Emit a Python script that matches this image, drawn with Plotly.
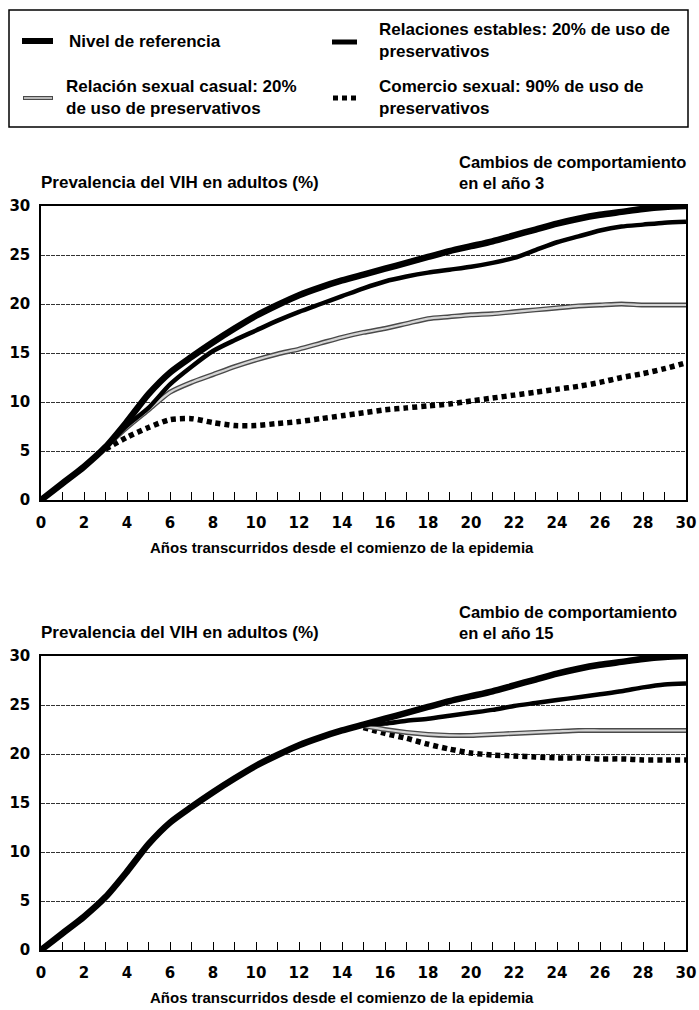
import plotly.graph_objects as go

# ---------------- data ----------------
years = list(range(0, 31))
referencia = [0, 1.7, 3.4, 5.4, 8.0, 10.8, 13.0, 14.6, 16.1, 17.5, 18.8, 19.9, 20.9, 21.7,
              22.4, 23.0, 23.6, 24.2, 24.8, 25.4, 25.9, 26.4, 27.0, 27.6, 28.2, 28.7, 29.1,
              29.4, 29.7, 29.9, 30.0]

# Behaviour change in year 3
years_a = list(range(3, 31))
estables_a = [5.4, 7.6, 9.4, 11.8, 13.6, 15.2, 16.3, 17.3, 18.3, 19.2, 20.0, 20.8, 21.6, 22.3,
              22.8, 23.2, 23.5, 23.8, 24.2, 24.7, 25.5, 26.3, 26.9, 27.5, 27.9, 28.1, 28.3, 28.4]
casual_a = [5.4, 7.4, 9.2, 11.0, 12.0, 12.8, 13.6, 14.3, 14.9, 15.4, 16.0, 16.6, 17.1, 17.5,
            18.0, 18.5, 18.7, 18.9, 19.0, 19.2, 19.4, 19.6, 19.8, 19.9, 20.0, 19.9, 19.9, 19.9]
comercio_a = [5.2, 6.4, 7.4, 8.2, 8.3, 7.9, 7.6, 7.6, 7.8, 8.0, 8.3, 8.6, 8.9, 9.2,
              9.4, 9.6, 9.8, 10.1, 10.4, 10.7, 11.0, 11.3, 11.6, 12.0, 12.5, 12.9, 13.4, 14.0]

# Behaviour change in year 15
years_b = list(range(15, 31))
estables_b = [23.0, 23.1, 23.4, 23.6, 23.9, 24.2, 24.5, 24.9, 25.2, 25.5, 25.8, 26.1, 26.4,
              26.8, 27.1, 27.2]
casual_b = [22.9, 22.5, 22.2, 22.0, 21.9, 21.9, 22.0, 22.1, 22.2, 22.3, 22.4, 22.4, 22.4,
            22.4, 22.4, 22.4]
comercio_b = [22.7, 22.1, 21.6, 21.0, 20.5, 20.1, 19.9, 19.8, 19.7, 19.6, 19.6, 19.5, 19.5,
              19.4, 19.4, 19.4]

legend_labels = ["Nivel de referencia",
                 "Relaciones estables: 20% de uso de<br>preservativos",
                 "Relación sexual casual: 20%<br>de uso de preservativos",
                 "Comercio sexual: 90% de uso de<br>preservativos"]
y_title = "Prevalencia del VIH en adultos (%)"
x_title = "Años transcurridos desde el comienzo de la epidemia"
panel_titles = ["Cambios de comportamiento<br>en el año 3",
                "Cambio de comportamiento<br>en el año 15"]
x_ticks = list(range(0, 31, 2))
y_ticks = list(range(0, 31, 5))

# ---------------- figure ----------------
W, H = 699, 1010
TXT = dict(family="Liberation Sans, Arial, sans-serif", size=17, color="black", weight=700)
NUM = dict(family="DejaVu Sans, sans-serif", size=15, color="black", weight=700)


def px(x):
    return x / W


def py(y):
    return 1 - y / H


fig = go.Figure()


def add_panel(xa, ya, xs, est, cas, com):
    common = dict(xaxis=xa, yaxis=ya, mode="lines", showlegend=False, hoverinfo="skip")
    sp = dict(shape="spline", smoothing=0.7)
    fig.add_trace(go.Scatter(x=xs, y=com, line=dict(color="black", width=5.5, dash="5px,4px", **sp), **common))
    fig.add_trace(go.Scatter(x=xs, y=cas, line=dict(color="#4a4a4a", width=5, **sp), **common))
    fig.add_trace(go.Scatter(x=xs, y=cas, line=dict(color="#d4d4d4", width=2.2, **sp), **common))
    fig.add_trace(go.Scatter(x=xs, y=est, line=dict(color="black", width=4.5, **sp), **common))
    fig.add_trace(go.Scatter(x=years, y=referencia, line=dict(color="black", width=6.5, **sp), **common))


add_panel("x", "y", years_a, estables_a, casual_a, comercio_a)
add_panel("x2", "y2", years_b, estables_b, casual_b, comercio_b)

xdom = [px(41), px(686)]
axis_x = dict(range=[0, 30], tickvals=x_ticks, ticks="inside", ticklen=8, tickwidth=1.3,
              tickcolor="black", showline=True, linecolor="black", linewidth=1.5, mirror=True,
              showgrid=False, zeroline=False, tickfont=NUM, ticklabelstandoff=8,
              minor=dict(dtick=1, tick0=0, ticks="inside", ticklen=8, tickwidth=1.3,
                         tickcolor="black", showgrid=False))
axis_y = dict(range=[0, 30], tickvals=y_ticks, ticks="", showline=True, linecolor="black",
              linewidth=1.5, mirror=True, showgrid=True, gridcolor="#333", gridwidth=1,
              griddash="4px,1px", zeroline=False, tickfont=NUM, ticklabelstandoff=6)

fig.update_layout(
    width=W, height=H, margin=dict(l=0, r=0, t=0, b=0, autoexpand=False),
    paper_bgcolor="white", plot_bgcolor="white", showlegend=False,
    xaxis=dict(domain=xdom, anchor="y", automargin=False, **axis_x),
    yaxis=dict(domain=[py(500), py(206)], anchor="x", automargin=False, **axis_y),
    xaxis2=dict(domain=xdom, anchor="y2", automargin=False, **axis_x),
    yaxis2=dict(domain=[py(950), py(656)], anchor="x2", automargin=False, **axis_y),
)

ann = []
for top, bottom, title in [(206, 500, panel_titles[0]), (656, 950, panel_titles[1])]:
    ann.append(dict(x=px(39), y=py(top - 12), xref="paper", yref="paper", text=y_title,
                    showarrow=False, xanchor="left", yanchor="bottom", font=TXT))
    ann.append(dict(x=px(457), y=py(top - 12), xref="paper", yref="paper", text=title,
                    showarrow=False, xanchor="left", yanchor="bottom", align="left",
                    font=dict(TXT, size=16.5)))
    ann.append(dict(x=px(342), y=py(bottom + 47), xref="paper", yref="paper", text=x_title,
                    showarrow=False, xanchor="center", yanchor="middle",
                    font=dict(TXT, size=15)))

# legend box
shapes = [dict(type="rect", xref="paper", yref="paper", x0=px(9), x1=px(688), y0=py(10),
               y1=py(127), line=dict(color="black", width=1.5))]
shapes.append(dict(type="line", xref="paper", yref="paper", x0=px(22), x1=px(53), y0=py(41),
                   y1=py(41), line=dict(color="black", width=6)))
shapes.append(dict(type="line", xref="paper", yref="paper", x0=px(332), x1=px(357), y0=py(42),
                   y1=py(42), line=dict(color="black", width=5)))
shapes.append(dict(type="line", xref="paper", yref="paper", x0=px(23), x1=px(53), y0=py(98),
                   y1=py(98), line=dict(color="#4a4a4a", width=4)))
shapes.append(dict(type="line", xref="paper", yref="paper", x0=px(24), x1=px(52), y0=py(98),
                   y1=py(98), line=dict(color="#d4d4d4", width=1.6)))
shapes.append(dict(type="line", xref="paper", yref="paper", x0=px(333), x1=px(360), y0=py(98),
                   y1=py(98), line=dict(color="black", width=5, dash="5px,4px")))
fig.update_layout(shapes=shapes)

leg_pos = [(67, 41), (377, 40), (64, 98), (377, 98)]
for (lx, ly), lab in zip(leg_pos, legend_labels):
    ann.append(dict(x=px(lx), y=py(ly), xref="paper", yref="paper", text=lab, showarrow=False,
                    xanchor="left", yanchor="middle", align="left", font=TXT))

fig.update_layout(annotations=ann)
fig.write_html("out.html", config={"displayModeBar": False},
               post_script="document.body.style.margin='0';document.body.style.overflow='hidden';")
